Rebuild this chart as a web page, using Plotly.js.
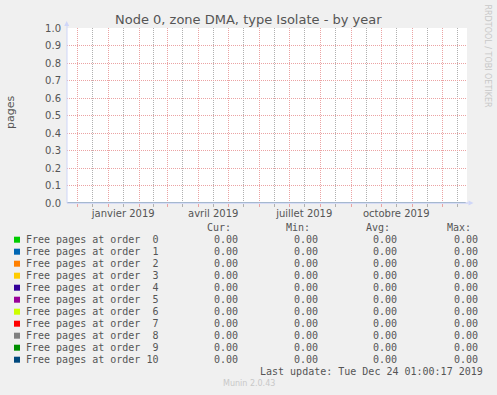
<!DOCTYPE html>
<html><head><meta charset="utf-8">
<script src="https://cdn.plot.ly/plotly-3.0.1.min.js"></script>
<style>html,body{margin:0;padding:0;background:#f0f0f0;}</style>
</head><body>
<div id="chart" style="width:497px;height:395px;"></div>
<script>
// ---- data ----
const chartTitle = 'Node 0, zone DMA, type Isolate - by year';
const yTitle = 'pages';
const seriesNames = ['Free pages at order  0','Free pages at order  1','Free pages at order  2','Free pages at order  3','Free pages at order  4','Free pages at order  5','Free pages at order  6','Free pages at order  7','Free pages at order  8','Free pages at order  9','Free pages at order 10'];
const seriesColors = ['#00CC00','#0066B3','#FF8000','#FFCC00','#330099','#990099','#CCFF00','#FF0000','#808080','#008F00','#00487D'];
const sampleDates = ['2018-11-21','2019-01-01','2019-04-01','2019-07-01','2019-10-01','2019-12-24'];
const order0 = [0,0,0,0,0,0];
const order1 = [0,0,0,0,0,0];
const order2 = [0,0,0,0,0,0];
const order3 = [0,0,0,0,0,0];
const order4 = [0,0,0,0,0,0];
const order5 = [0,0,0,0,0,0];
const order6 = [0,0,0,0,0,0];
const order7 = [0,0,0,0,0,0];
const order8 = [0,0,0,0,0,0];
const order9 = [0,0,0,0,0,0];
const order10 = [0,0,0,0,0,0];
const seriesValues = [order0,order1,order2,order3,order4,order5,order6,order7,order8,order9,order10];
const curValues = [0,0,0,0,0,0,0,0,0,0,0];
const minValues = [0,0,0,0,0,0,0,0,0,0,0];
const avgValues = [0,0,0,0,0,0,0,0,0,0,0];
const maxValues = [0,0,0,0,0,0,0,0,0,0,0];
const xTickVals = ['2018-11-16','2018-12-16','2019-01-16','2019-02-15','2019-03-16','2019-04-16','2019-05-16','2019-06-16','2019-07-16','2019-08-16','2019-09-16','2019-10-16','2019-11-16','2019-12-16'];
const xTickText = ['','','janvier 2019','','','avril 2019','','','juillet 2019','','','octobre 2019','',''];
const xRange = ['2018-11-20 18:00','2019-12-25 18:00'];
const lastUpdate = 'Last update: Tue Dec 24 01:00:17 2019';
const muninVersion = 'Munin 2.0.43';
const watermark = 'RRDTOOL / TOBI OETIKER';

// ---- layout helpers ----
const L = 67, T = 28, W = 400, H = 175;
const px = v => (v - L) / W;
const py = v => (T + H - v) / H;
const FONT = 'DejaVu Sans, sans-serif';
const MONO = 'DejaVu Sans Mono, monospace';
const TXT = '#555555';
const AXIS = '#CFD6F8';
const MGRID = '#eba3a3';
const GRID = '#b0b0b0';

const traces = seriesValues.map((vals, i) => ({
  type: 'scatter', mode: 'lines', x: sampleDates, y: vals,
  name: seriesNames[i], line: {color: seriesColors[i], width: 1},
  showlegend: false, hoverinfo: 'skip'
}));

const annotations = [];
const shapes = [];
annotations.push({xref:'paper', yref:'paper', x: px(248), y: py(19.5), xanchor:'center', yanchor:'middle',
  text: chartTitle, showarrow:false, font:{family:FONT, size:13, color:TXT}});
annotations.push({xref:'paper', yref:'paper', x: px(10), y: py(113), xanchor:'center', yanchor:'middle',
  text: yTitle, textangle:-90, showarrow:false, font:{family:FONT, size:11, color:TXT}});
annotations.push({xref:'paper', yref:'paper', x: px(487.5), y: py(56), xanchor:'center', yanchor:'middle',
  text: watermark, textangle:90, showarrow:false, font:{family:FONT, size:8, color:'#c8c8c8'}});
const headers = [['Cur:',233],['Min:',312],['Avg:',392],['Max:',473]];
headers.forEach(h => annotations.push({xref:'paper', yref:'paper', x: px(h[1]), y: py(227.7), xanchor:'right', yanchor:'middle',
  text: h[0], showarrow:false, font:{family:MONO, size:10, color:TXT}}));
const colEnds = [240, 320, 399, 480];
const cols = [curValues, minValues, avgValues, maxValues];
seriesNames.forEach((n, i) => {
  const yc = 239.7 + 12 * i;
  shapes.push({type:'rect', xref:'paper', yref:'paper', x0: px(14), x1: px(20), y0: py(yc - 3), y1: py(yc + 3),
    fillcolor: seriesColors[i], line:{width:0}});
  annotations.push({xref:'paper', yref:'paper', x: px(23.5), y: py(yc), xanchor:'left', yanchor:'middle',
    text: n.replace(/ /g, '\u00a0'), showarrow:false, font:{family:MONO, size:10, color:TXT}});
  cols.forEach((c, k) => annotations.push({xref:'paper', yref:'paper', x: px(colEnds[k]), y: py(yc), xanchor:'right', yanchor:'middle',
    text: c[i].toFixed(2), showarrow:false, font:{family:MONO, size:10, color:TXT}}));
});
annotations.push({xref:'paper', yref:'paper', x: px(485), y: py(371), xanchor:'right', yanchor:'middle',
  text: lastUpdate, showarrow:false, font:{family:MONO, size:10, color:TXT}});
annotations.push({xref:'paper', yref:'paper', x: px(249), y: py(383.5), xanchor:'center', yanchor:'middle',
  text: muninVersion, showarrow:false, font:{family:FONT, size:8, color:'#c8c8c8'}});

shapes.push({type:'line', xref:'paper', yref:'paper', layer:'above', x0:0, x1:px(468.5), y0:0, y1:0, line:{color:AXIS, width:1.5}});
shapes.push({type:'line', xref:'paper', yref:'paper', layer:'above', x0:0, x1:0, y0:0, y1:py(26), line:{color:AXIS, width:1}});
shapes.push({type:'path', xref:'paper', yref:'paper', layer:'above', path:`M ${px(64.2)} ${py(26)} L ${px(69.2)} ${py(26)} L ${px(66.7)} ${py(21)} Z`, fillcolor:AXIS, line:{width:0}});
shapes.push({type:'path', xref:'paper', yref:'paper', layer:'above', path:`M ${px(468.5)} ${py(200.5)} L ${px(468.5)} ${py(205.5)} L ${px(473.5)} ${py(203)} Z`, fillcolor:AXIS, line:{width:0}});

const layout = {
  width: 497, height: 395,
  margin: {l: L, r: 497 - L - W, t: T, b: 395 - T - H, pad: 0},
  paper_bgcolor: '#f0f0f0', plot_bgcolor: '#ffffff',
  showlegend: false,
  xaxis: {
    type: 'date', range: xRange, fixedrange: true,
    tickmode: 'array', tickvals: xTickVals, ticktext: xTickText,
    showgrid: true, gridcolor: GRID, griddash: '1px,1px', gridwidth: 1,
    ticks: 'outside', ticklen: 3, tickcolor: GRID, tickwidth: 1, ticklabelstandoff: -2,
    tickfont: {family: FONT, size: 10, color: TXT},
    showline: false, zeroline: false,
    minor: {tickmode: 'linear', tick0: '2018-12-01', dtick: 'M1', showgrid: true, gridcolor: MGRID,
      griddash: '1px,1px', gridwidth: 1, ticks: 'outside', ticklen: 3, tickcolor: MGRID}
  },
  yaxis: {
    range: [0, 1], fixedrange: true, tickmode: 'linear', tick0: 0, dtick: 0.1, tickformat: '.1f',
    showgrid: true, gridcolor: MGRID, griddash: '1px,1px', gridwidth: 1,
    ticks: '', ticklabelstandoff: 5,
    tickfont: {family: FONT, size: 10, color: TXT},
    showline: false, zeroline: false
  },
  annotations: annotations,
  shapes: shapes
};
Plotly.newPlot('chart', traces, layout, {staticPlot: true, displayModeBar: false});
</script>
</body></html>
